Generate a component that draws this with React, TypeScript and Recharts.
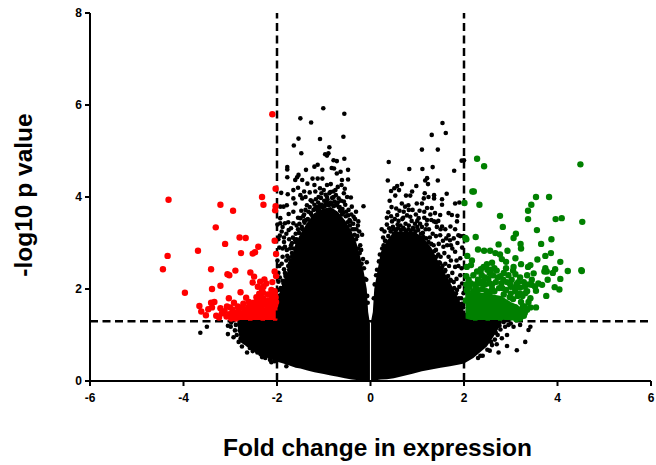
import { ComposedChart, Area, Scatter, XAxis, YAxis, ReferenceLine } from 'recharts'

// ── Axes ──────────────────────────────────────────────────────────────────────
const X_TICKS = [-6, -4, -2, 0, 2, 4, 6]
const Y_TICKS = [0, 2, 4, 6, 8]
const FOLD_CUTOFF = 2
const P_CUTOFF = 1.3

// ── Saturated black body, too dense to read dot by dot: x, lower edge, upper edge ──
const LEFT_X = [-2.85, -2.79, -2.6, -2.43, -2.2, -2.0, -1.9, -1.75, -1.6, -1.5, -1.35, -1.2, -1.0, -0.85, -0.7, -0.55, -0.4, -0.3, -0.22, -0.15, -0.08, -0.05, -0.012]
const LEFT_LOW = [1.25, 0.85, 0.72, 0.6, 0.5, 0.42, 0.39, 0.34, 0.29, 0.27, 0.23, 0.19, 0.15, 0.12, 0.09, 0.06, 0.03, 0.02, 0.02, 0.01, 0.01, 0, 0]
const LEFT_HIGH = [1.35, 1.4, 1.4, 1.4, 1.4, 1.7, 2.05, 2.45, 3.0, 3.2, 3.45, 3.65, 3.75, 3.78, 3.68, 3.5, 3.25, 3.0, 2.7, 2.4, 2.0, 1.5, 1.25]

const RIGHT_X = [0.012, 0.05, 0.08, 0.15, 0.22, 0.35, 0.5, 0.7, 0.9, 1.1, 1.3, 1.5, 1.7, 1.9, 2.0, 2.2, 2.49, 2.63, 2.81]
const RIGHT_LOW = [0, 0, 0.01, 0.02, 0.03, 0.04, 0.06, 0.11, 0.16, 0.21, 0.25, 0.29, 0.32, 0.36, 0.38, 0.5, 0.75, 0.96, 1.26]
const RIGHT_HIGH = [1.3, 1.5, 2.0, 2.4, 2.8, 3.05, 3.25, 3.25, 3.25, 3.15, 2.9, 2.5, 2.15, 1.75, 1.5, 1.4, 1.4, 1.4, 1.35]

// Red and green solid blocks just above the p cutoff
const RED_X = [-2.9, -2.75, -2.6, -2.4, -2.25, -2.1, -1.99]
const RED_LOW = [1.34, 1.31, 1.31, 1.31, 1.31, 1.31, 1.31]
const RED_HIGH = [1.45, 1.55, 1.58, 1.65, 1.6, 1.75, 1.7]

const GREEN_X = [2.03, 2.2, 2.5, 2.8, 3.0, 3.15, 3.28]
const GREEN_LOW = [1.36, 1.31, 1.31, 1.31, 1.31, 1.33, 1.36]
const GREEN_HIGH = [1.9, 1.95, 1.9, 1.85, 1.72, 1.65, 1.5]

// ── Individual dots, [fold change, -log10 p] ──────────────────────────────────
const BLACK_LEFT: [number, number][] = [
  [-1.01, 5.93], [-0.56, 5.81], [-1.5, 5.71], [-1.27, 5.62], [-1.54, 5.27], [-1.08, 5.26], [-0.58, 5.31], [-1.64, 5.12],
  [-1.48, 4.95], [-0.88, 5.08], [-0.97, 4.93], [-0.9, 4.95], [-0.93, 4.9], [-0.56, 4.83], [-0.79, 4.8], [-0.72, 4.78],
  [-1.13, 4.7], [-1.2, 4.66], [-1.78, 4.65], [-1.78, 4.6], [-1.38, 4.59], [-1.03, 4.59], [-0.83, 4.63], [-0.78, 4.62],
  [-0.48, 4.59], [-1.54, 4.48], [-1.57, 4.43], [-1.61, 4.37], [-1.78, 4.43], [-1.91, 4.09], [-1.77, 4.06], [-1.65, 4.15],
  [-1.61, 3.86], [-1.79, 3.82], [-1.93, 3.79], [-1.86, 3.79], [-1.75, 3.63], [-1.65, 3.68], [-1.5, 3.54], [-1.93, 3.54],
  [-1.93, 3.43], [-1.83, 3.43], [-1.75, 3.28], [-1.65, 3.43], [-1.9, 3.25], [-1.94, 3.16], [-0.15, 3.8], [-0.31, 3.68],
  [-0.4, 3.79], [-0.42, 3.99], [-0.26, 3.47], [-0.18, 3.18], [-0.5, 4.0], [-0.48, 4.38], [-0.61, 4.37], [-0.62, 4.26],
  [-0.72, 4.51], [-0.64, 4.55], [-1.0, 4.15], [-1.08, 4.19], [-0.93, 4.26], [-1.11, 4.0], [-1.28, 3.93], [-1.46, 3.97],
  [-1.39, 4.0], [-1.5, 4.04], [-1.65, 3.97], [-1.46, 4.37], [-1.35, 4.29], [-1.2, 4.26], [-1.13, 4.4], [-1.03, 4.4],
  [-1.24, 4.4], [-0.86, 4.11], [-0.75, 4.15], [-0.93, 4.0], [-0.79, 4.0], [-0.68, 3.97], [-0.57, 4.08], [-1.2, 3.83],
  [-1.08, 3.83], [-0.9, 3.83], [-0.72, 3.83], [-0.54, 3.83], [-1.39, 3.72], [-1.28, 3.65], [-0.36, 3.57], [-0.43, 3.47],
  [-1.55, 3.3], [-1.42, 3.48], [-1.1, 3.72], [-0.62, 3.68], [-0.48, 3.6], [-0.3, 3.3], [-0.22, 2.95], [-0.16, 2.65],
  [-1.85, 2.43], [-1.97, 2.16], [-1.72, 2.55], [-1.9, 1.91], [-1.79, 2.85], [-1.68, 3.0], [-1.85, 3.02], [-1.95, 2.9],
  [-1.88, 2.7], [-1.8, 2.62], [-1.95, 2.5], [-1.78, 2.3], [-1.88, 2.18], [-1.97, 2.35], [-1.95, 1.85], [-1.99, 2.62],
  [-0.08, 2.58], [-0.09, 2.2], [-0.07, 1.85],
  [-3.64, 1.05], [-3.5, 1.18], [-3.05, 1.02], [-2.93, 0.95], [-2.82, 0.85], [-2.75, 0.75], [-2.64, 0.62], [-2.52, 0.65],
  [-2.32, 0.52], [-2.61, 0.78], [-2.99, 1.18], [-3.05, 1.2], [-2.9, 1.1], [-2.98, 1.27], [-2.12, 0.41], [-1.8, 0.32],
]

const BLACK_LEFT_TOP: [number, number][] = [
  [-1.55, 3.55], [-1.48, 3.7], [-1.42, 3.62], [-1.36, 3.82], [-1.33, 3.68], [-1.3, 3.78], [-1.25, 3.9], [-1.22, 3.72],
  [-1.17, 3.95], [-1.15, 3.78], [-1.12, 3.88], [-1.06, 3.98], [-1.02, 3.77], [-0.99, 3.92], [-0.96, 4.05], [-0.95, 3.85],
  [-0.92, 3.95], [-0.88, 4.08], [-0.85, 3.88], [-0.82, 3.98], [-0.8, 4.12], [-0.77, 3.9], [-0.74, 4.04], [-0.7, 3.88],
  [-0.66, 3.78], [-0.63, 3.92], [-0.6, 3.74], [-0.57, 3.9], [-0.52, 3.68], [-0.47, 3.72], [-0.45, 3.5], [-0.41, 3.62],
  [-0.37, 3.42], [-0.33, 3.52], [-0.28, 3.15], [-0.24, 3.25], [-0.2, 2.85], [-0.27, 3.38], [-0.35, 3.3], [-1.6, 3.2],
  [-1.58, 3.38], [-1.52, 3.42], [-1.47, 3.35], [-1.44, 3.58], [-1.38, 3.5], [-1.3, 4.1], [-1.18, 4.12], [-1.05, 4.08],
  [-1.42, 4.12], [-1.55, 4.2], [-0.85, 4.28], [-0.7, 4.22], [-0.55, 4.18],
  [-1.58, 3.08], [-1.53, 3.22], [-1.46, 3.3], [-1.41, 3.44], [-1.34, 3.52], [-1.27, 3.63], [-1.24, 3.58], [-1.19, 3.74],
  [-1.13, 3.7], [-1.09, 3.8], [-1.04, 3.83], [-0.98, 3.8], [-0.93, 3.88], [-0.89, 3.82], [-0.83, 3.85], [-0.79, 3.8],
  [-0.75, 3.82], [-0.68, 3.78], [-0.65, 3.7], [-0.61, 3.62], [-0.58, 3.66], [-0.53, 3.58], [-0.49, 3.45], [-0.44, 3.38],
  [-0.39, 3.3], [-0.34, 3.18], [-0.31, 3.08], [-0.26, 2.88], [-0.23, 2.78], [-0.19, 2.55], [-0.14, 2.45], [-0.12, 2.22],
  [-0.06, 1.7],
]

const BLACK_LEFT_EDGE: [number, number][] = [
  [-1.72, 2.55], [-1.68, 2.78], [-1.74, 2.42], [-1.8, 2.2], [-1.83, 2.35], [-1.77, 2.05], [-1.85, 2.05], [-1.92, 2.02],
  [-1.66, 3.12], [-1.62, 3.08], [-1.7, 2.95], [-1.74, 3.08], [-1.78, 2.72], [-1.72, 2.88], [-1.83, 2.92], [-1.88, 2.88],
  [-1.9, 2.55], [-1.94, 2.25], [-1.98, 1.98], [-1.93, 1.72], [-1.97, 1.68], [-1.88, 1.78], [-1.75, 2.68], [-1.66, 2.62],
  [-1.6, 3.02], [-1.97, 3.08], [-1.7, 3.32], [-1.8, 3.2], [-1.85, 3.12], [-1.99, 3.4], [-1.88, 3.35], [-1.76, 3.45],
  [-2.88, 1.22], [-2.8, 1.1], [-2.72, 1.05], [-2.86, 1.0], [-2.78, 0.92], [-2.68, 0.85], [-2.58, 0.72], [-2.5, 0.7],
  [-2.42, 0.62], [-2.35, 0.58], [-2.25, 0.5], [-2.15, 0.46], [-2.05, 0.43],
  [-1.68, 2.7], [-1.64, 2.88], [-1.71, 2.62], [-1.76, 2.5], [-1.82, 2.28], [-1.86, 2.12], [-1.91, 1.98], [-1.96, 1.75],
]

const BLACK_RIGHT: [number, number][] = [
  [1.54, 5.61], [1.61, 5.39], [1.31, 5.35], [1.1, 5.03], [1.44, 5.03], [0.39, 4.76], [1.95, 4.79], [2.0, 4.8],
  [0.83, 4.61], [1.11, 4.61], [1.33, 4.65], [1.79, 4.57], [0.37, 4.36], [1.21, 4.41], [1.17, 4.36], [1.23, 4.28],
  [1.44, 4.36], [0.67, 4.28], [0.57, 4.24], [0.51, 4.19], [0.44, 4.13], [0.61, 4.15], [0.98, 4.24], [0.89, 4.12],
  [0.85, 4.03], [0.76, 4.03], [1.16, 4.08], [1.14, 3.97], [1.24, 4.0], [1.36, 4.04], [1.36, 3.97], [1.63, 4.07],
  [1.53, 3.95], [1.53, 3.83], [1.81, 3.86], [1.9, 3.88], [0.41, 3.92], [0.53, 4.03], [0.38, 3.67], [0.67, 3.86],
  [0.74, 3.79], [0.81, 3.82], [0.99, 3.86], [1.1, 3.86], [1.21, 3.76], [1.31, 3.76], [1.38, 3.65], [1.49, 3.61],
  [1.67, 3.65], [1.74, 3.61], [1.86, 3.59], [1.85, 3.47], [1.71, 3.36], [1.81, 3.3], [1.53, 3.36], [1.6, 3.3],
  [1.92, 3.15], [1.99, 3.15], [0.24, 3.3], [0.46, 3.47], [0.57, 3.61], [0.71, 3.68], [0.85, 3.57], [1.03, 3.54],
  [1.21, 3.5], [1.36, 3.47], [1.49, 3.17], [1.67, 3.17], [1.78, 3.1], [1.25, 3.3], [1.1, 3.35], [0.95, 3.42],
  [0.75, 3.42], [0.58, 3.4], [1.4, 3.15], [1.88, 3.17], [1.7, 3.06], [1.56, 2.92], [1.81, 2.81], [1.92, 2.67],
  [1.67, 2.7], [1.49, 2.56], [1.81, 2.48], [1.6, 2.41], [1.92, 2.3], [1.71, 2.2], [1.53, 2.12], [1.85, 1.98],
  [1.99, 1.91], [1.63, 1.87], [1.81, 1.8], [1.92, 1.65], [1.35, 2.95], [1.45, 2.75], [1.6, 2.55], [1.75, 2.35],
  [0.28, 2.95], [0.18, 2.6], [0.12, 2.3], [0.07, 1.8],
  [3.42, 1.18], [3.38, 1.11], [3.31, 0.85], [3.13, 0.67], [2.74, 0.62], [2.92, 0.76], [2.81, 0.93], [3.06, 1.18],
  [3.2, 1.22], [2.92, 1.0], [2.6, 0.78], [3.0, 1.25], [2.88, 1.18], [2.72, 1.0], [2.66, 0.9], [2.55, 0.66],
  [2.4, 0.55], [2.3, 0.5],
]

const BLACK_RIGHT_TOP: [number, number][] = [
  [0.27, 3.12], [0.3, 3.25], [0.35, 3.4], [0.4, 3.32], [0.44, 3.58], [0.48, 3.35], [0.52, 3.52], [0.55, 3.3],
  [0.6, 3.48], [0.64, 3.38], [0.68, 3.52], [0.72, 3.3], [0.78, 3.6], [0.82, 3.38], [0.88, 3.48], [0.92, 3.3],
  [0.97, 3.62], [1.0, 3.35], [1.06, 3.42], [1.12, 3.22], [1.15, 3.55], [1.18, 3.3], [1.27, 3.12], [1.3, 3.5],
  [1.33, 3.2], [1.42, 3.35], [1.46, 2.98], [1.55, 3.05], [0.45, 3.78], [0.62, 3.7], [0.9, 3.72], [1.05, 3.7],
  [1.15, 3.68], [1.45, 3.48], [0.5, 3.2], [0.32, 3.05],
  [0.09, 2.1], [0.14, 2.42], [0.2, 2.75], [0.25, 2.88], [0.31, 3.05], [0.38, 3.15], [0.43, 3.25], [0.49, 3.3],
  [0.54, 3.27], [0.59, 3.32], [0.65, 3.28], [0.7, 3.33], [0.76, 3.26], [0.81, 3.3], [0.86, 3.27], [0.91, 3.33],
  [0.96, 3.24], [1.02, 3.28], [1.08, 3.2], [1.13, 3.13], [1.19, 3.1], [1.24, 3.02], [1.3, 2.98], [1.36, 2.82],
  [0.35, 3.55], [0.55, 3.75], [0.7, 3.55], [0.82, 3.72], [1.0, 3.48], [1.2, 3.4], [1.28, 3.62], [1.4, 3.45],
  [1.5, 3.3], [1.62, 3.1], [1.72, 2.95],
]

const BLACK_RIGHT_EDGE: [number, number][] = [
  [1.4, 2.85], [1.5, 2.7], [1.58, 2.78], [1.52, 2.45], [1.62, 2.25], [1.68, 2.5], [1.72, 2.62], [1.78, 2.15],
  [1.84, 2.22], [1.88, 2.5], [1.95, 2.45], [1.9, 2.05], [1.96, 2.12], [1.74, 1.95], [1.86, 1.75], [1.94, 1.8],
  [1.98, 1.6], [1.42, 2.55], [1.64, 2.95], [1.75, 2.88], [1.84, 2.62], [1.96, 2.9], [1.86, 3.0], [1.65, 2.05],
  [1.58, 2.2], [2.35, 0.55], [2.5, 0.68], [2.58, 0.85], [2.68, 1.05], [2.76, 1.2], [2.85, 1.28], [2.95, 1.22],
  [2.7, 0.8], [2.78, 1.12],
  [1.41, 2.7], [1.47, 2.58], [1.54, 2.5], [1.59, 2.38], [1.66, 2.28], [1.72, 2.18], [1.79, 2.02], [1.83, 1.9],
  [1.89, 1.8], [1.95, 1.68],
]

const RED_DOTS: [number, number][] = [
  [-2.1, 5.8], [-2.03, 4.18], [-2.32, 4.0], [-2.29, 3.83], [-2.03, 3.8], [-2.04, 3.71], [-4.32, 3.94], [-3.21, 3.83],
  [-2.94, 3.7], [-3.31, 3.34], [-2.8, 3.12], [-2.67, 3.11], [-2.05, 3.05], [-3.11, 2.98], [-2.4, 2.92], [-3.69, 2.83],
  [-2.77, 2.78], [-2.47, 2.8], [-2.52, 2.77], [-2.02, 2.76], [-4.34, 2.72], [-4.44, 2.43], [-3.41, 2.43], [-2.89, 2.4],
  [-3.06, 2.32], [-3.02, 2.3], [-2.57, 2.36], [-2.49, 2.27], [-2.05, 2.38], [-2.02, 2.28], [-2.27, 2.21], [-2.36, 2.16],
  [-2.52, 2.14], [-2.1, 2.15], [-2.41, 2.05], [-2.29, 2.05], [-2.32, 1.99], [-2.23, 2.12], [-3.21, 2.07], [-3.39, 2.0],
  [-3.97, 1.92], [-2.78, 1.93], [-3.03, 1.8], [-2.66, 1.81], [-2.36, 1.85], [-2.11, 1.85], [-3.34, 1.72], [-3.41, 1.7],
  [-3.66, 1.63], [-3.62, 1.51], [-3.52, 1.43], [-3.47, 1.56], [-3.39, 1.6], [-3.21, 1.58], [-3.18, 1.47], [-3.24, 1.38],
  [-3.07, 1.62], [-2.92, 1.7], [-3.12, 1.52], [-3.02, 1.45], [-2.95, 1.55], [-3.0, 1.6], [-2.84, 1.62], [-2.72, 1.68],
  [-2.6, 1.72], [-2.5, 1.7], [-2.42, 1.76], [-2.3, 1.8], [-2.2, 1.75], [-2.12, 1.9], [-2.05, 1.95], [-2.03, 1.82],
  [-2.15, 1.72], [-2.36, 1.7], [-2.04, 1.65], [-2.26, 1.66], [-2.55, 1.62], [-2.84, 1.48], [-3.3, 1.42], [-2.98, 1.36],
  [-2.9, 1.48], [-2.82, 1.55], [-2.75, 1.6], [-2.68, 1.56], [-2.6, 1.62], [-2.47, 1.6], [-2.42, 1.66], [-2.3, 1.68],
  [-2.2, 1.62], [-2.12, 1.78], [-2.08, 1.68], [-2.02, 1.72], [-2.33, 1.62], [-2.38, 1.9], [-2.3, 1.92], [-2.12, 1.98],
  [-2.05, 1.88], [-2.2, 1.88], [-2.95, 1.4], [-2.88, 1.36], [-3.08, 1.4], [-2.7, 1.48], [-2.52, 1.55], [-2.44, 1.82],
]

const GREEN_DOTS: [number, number][] = [
  [2.28, 4.83], [2.43, 4.67], [4.49, 4.71], [2.18, 4.12], [2.21, 4.12], [2.01, 3.87], [2.33, 3.83], [3.54, 4.0],
  [3.82, 4.0], [3.44, 3.83], [3.37, 3.7], [2.77, 3.59], [3.37, 3.52], [3.96, 3.52], [4.09, 3.54], [4.53, 3.46],
  [2.83, 3.35], [3.56, 3.28], [3.11, 3.2], [3.06, 3.11], [3.87, 3.08], [2.25, 3.13], [2.03, 3.11], [2.05, 3.08],
  [3.21, 2.98], [3.22, 2.88], [3.65, 2.98], [2.74, 2.97], [2.3, 2.86], [2.43, 2.83], [2.56, 2.83], [2.93, 2.83],
  [2.67, 2.78], [2.77, 2.75], [3.86, 2.78], [3.74, 2.72], [2.07, 2.72], [3.1, 2.67], [2.81, 2.65], [2.9, 2.59],
  [3.57, 2.64], [2.17, 2.62], [2.15, 2.52], [2.06, 2.48], [4.06, 2.59], [2.6, 2.57], [3.22, 2.54], [3.06, 2.48],
  [3.42, 2.52], [3.37, 2.48], [2.49, 2.54], [2.42, 2.48], [2.28, 2.38], [2.36, 2.43], [4.51, 2.41], [4.52, 2.39],
  [4.22, 2.39], [3.95, 2.43], [3.9, 2.35], [3.74, 2.45], [3.77, 2.38], [3.72, 2.38], [4.06, 2.22], [3.79, 2.2],
  [3.94, 2.04], [4.04, 1.99], [3.76, 1.85], [3.54, 1.96], [3.67, 2.09], [3.59, 2.12], [3.52, 2.05], [3.45, 2.09],
  [3.49, 2.34], [3.45, 2.2], [3.54, 1.6], [3.42, 1.8], [3.31, 1.91], [3.38, 1.72],
  [2.05, 2.28], [2.1, 2.2], [2.2, 2.3], [2.3, 2.2], [2.38, 2.3], [2.45, 2.25], [2.55, 2.35], [2.62, 2.3],
  [2.7, 2.4], [2.78, 2.28], [2.85, 2.35], [2.95, 2.3], [3.02, 2.2], [3.1, 2.32], [3.2, 2.25], [3.28, 2.15],
  [3.35, 2.3], [3.05, 2.4], [2.9, 2.45], [2.65, 2.45], [2.5, 2.42], [2.12, 2.05], [2.25, 2.05], [2.35, 2.12],
  [2.45, 2.1], [2.55, 2.12], [2.68, 2.15], [2.8, 2.12], [2.92, 2.15], [3.0, 2.05], [3.12, 2.1], [3.2, 2.03],
  [3.3, 2.05], [3.38, 2.1], [2.2, 1.95], [2.4, 2.0], [2.6, 2.0], [2.75, 2.02], [2.9, 1.98], [3.1, 1.95],
  [3.25, 1.85], [3.35, 1.95], [3.22, 1.72], [3.3, 1.62], [3.42, 1.6], [3.15, 1.85], [3.28, 1.42], [3.18, 1.55],
  [2.06, 1.98], [2.04, 1.75], [2.55, 1.92], [2.85, 1.88], [3.05, 1.78], [3.3, 1.48], [3.12, 1.34], [3.2, 1.36],
  [2.1, 1.85], [2.15, 2.12], [2.28, 2.12], [2.42, 2.18], [2.52, 2.22], [2.6, 2.1], [2.72, 2.25], [2.84, 2.2],
  [2.98, 2.12], [3.08, 2.02], [3.16, 2.15], [2.05, 2.1], [2.08, 1.95], [2.3, 1.98], [2.48, 1.95], [2.65, 1.95],
  [2.82, 2.02], [3.0, 1.9], [3.2, 1.9], [2.35, 2.38], [2.58, 2.42], [3.24, 1.5], [3.26, 1.62], [3.35, 1.55],
  [2.98, 1.82], [3.1, 1.6],
]

// ── Shared style tokens ───────────────────────────────────────────────────────
const FONT = '"Liberation Sans", Arial, sans-serif'
const TICK_STYLE = { fontSize: 12, fontWeight: 700, fill: '#000', fontFamily: FONT }
const TITLE_STYLE = { fontSize: 24.5, fontWeight: 700, fill: '#000', fontFamily: FONT }
const AXIS_LINE = { stroke: '#000', strokeWidth: 2 }
const DASH = '8 4.5'

const band = (xs: number[], low: number[], high: number[]) =>
  xs.map((x, i) => ({ x, range: [low[i], high[i]] }))

const dots = (points: [number, number][]) => points.map(([x, y]) => ({ x, y }))

const dot = (r: number, fill: string) => (p: any) => <circle cx={p.cx} cy={p.cy} r={r} fill={fill} />

export default function App() {
  return (
    <div style={{ position: 'absolute', left: 0, top: 0, background: '#fff' }}>
      <ComposedChart width={656} height={465} margin={{ top: 13, right: 5, bottom: 0, left: 0 }}>
        <XAxis
          type="number"
          dataKey="x"
          domain={[-6, 6]}
          ticks={X_TICKS}
          allowDataOverflow
          height={84}
          tick={TICK_STYLE}
          tickSize={5}
          tickMargin={7}
          axisLine={AXIS_LINE}
          tickLine={AXIS_LINE}
          label={{ value: 'Fold change in expression', position: 'insideBottom', offset: 9, dx: 7, style: TITLE_STYLE }}
        />
        <YAxis
          type="number"
          domain={[0, 8]}
          ticks={Y_TICKS}
          allowDataOverflow
          width={90}
          tick={TICK_STYLE}
          tickSize={5}
          tickMargin={3}
          axisLine={AXIS_LINE}
          tickLine={AXIS_LINE}
          label={{ value: '-log10 p value', angle: -90, position: 'insideLeft', offset: 23, dy: -2, style: { ...TITLE_STYLE, textAnchor: 'middle' } }}
        />
        <ReferenceLine x={-FOLD_CUTOFF} stroke="#000" strokeWidth={2.5} strokeDasharray={DASH} />
        <ReferenceLine x={FOLD_CUTOFF} stroke="#000" strokeWidth={2.5} strokeDasharray={DASH} />
        <ReferenceLine y={P_CUTOFF} stroke="#000" strokeWidth={2.5} strokeDasharray={DASH} />
        <Area data={band(LEFT_X, LEFT_LOW, LEFT_HIGH)} dataKey="range" type="linear" fill="#000" fillOpacity={1} stroke="none" dot={false} isAnimationActive={false} />
        <Area data={band(RIGHT_X, RIGHT_LOW, RIGHT_HIGH)} dataKey="range" type="linear" fill="#000" fillOpacity={1} stroke="none" dot={false} isAnimationActive={false} />
        <Scatter data={dots(BLACK_LEFT)} dataKey="y" shape={dot(2.3, '#000')} isAnimationActive={false} />
        <Scatter data={dots(BLACK_LEFT_TOP)} dataKey="y" shape={dot(2.3, '#000')} isAnimationActive={false} />
        <Scatter data={dots(BLACK_LEFT_EDGE)} dataKey="y" shape={dot(2.3, '#000')} isAnimationActive={false} />
        <Scatter data={dots(BLACK_RIGHT)} dataKey="y" shape={dot(2.3, '#000')} isAnimationActive={false} />
        <Scatter data={dots(BLACK_RIGHT_TOP)} dataKey="y" shape={dot(2.3, '#000')} isAnimationActive={false} />
        <Scatter data={dots(BLACK_RIGHT_EDGE)} dataKey="y" shape={dot(2.3, '#000')} isAnimationActive={false} />
        <Area data={band(RED_X, RED_LOW, RED_HIGH)} dataKey="range" type="linear" fill="#ff0000" fillOpacity={1} stroke="none" dot={false} isAnimationActive={false} />
        <Area data={band(GREEN_X, GREEN_LOW, GREEN_HIGH)} dataKey="range" type="linear" fill="#008000" fillOpacity={1} stroke="none" dot={false} isAnimationActive={false} />
        <Scatter data={dots(RED_DOTS)} dataKey="y" shape={dot(3.2, '#ff0000')} isAnimationActive={false} />
        <Scatter data={dots(GREEN_DOTS)} dataKey="y" shape={dot(3.2, '#008000')} isAnimationActive={false} />
      </ComposedChart>
    </div>
  )
}
